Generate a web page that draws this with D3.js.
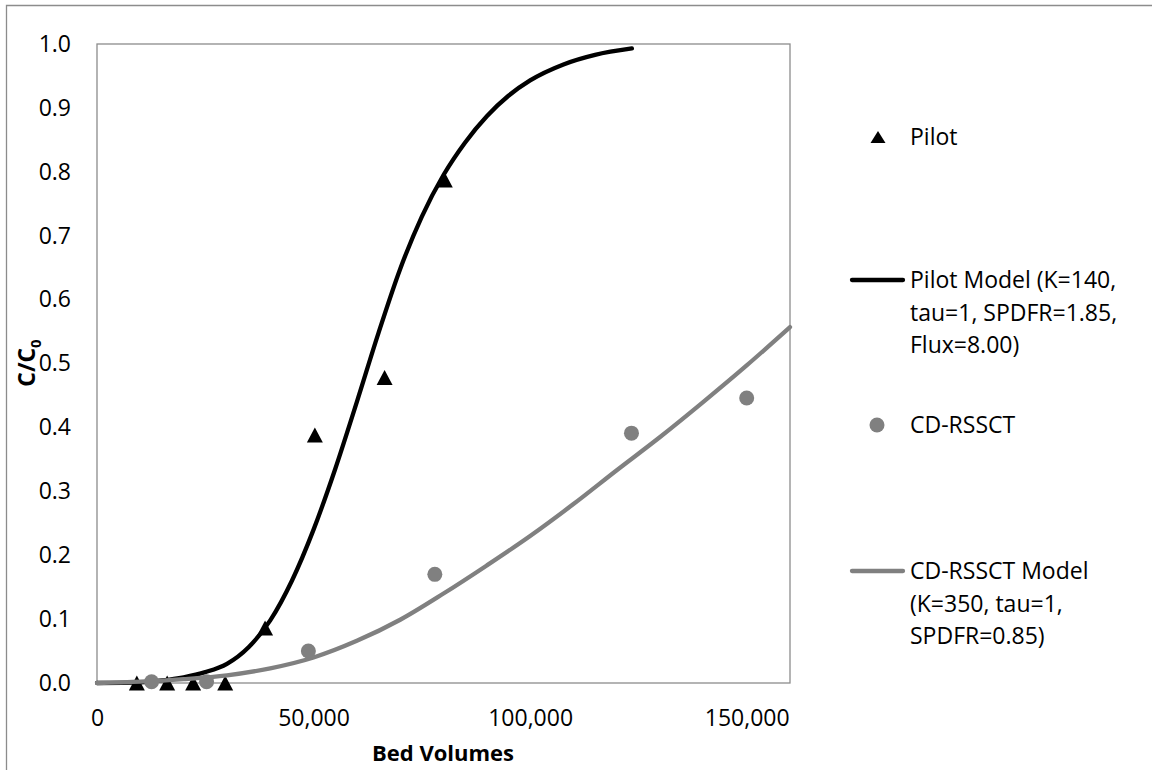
<!DOCTYPE html>
<meta charset="utf-8">
<title>Breakthrough curves</title>
<style>
  body { margin: 0; background: #fff; }
  text { font-family: "Open Sans", sans-serif; fill: #000; }
</style>
<body>
<div id="chart"></div>
<script src="https://cdn.jsdelivr.net/npm/d3@7"></script>
<script>

// pilot column data (bed volumes, C/C0)
var pilotBV   = [9200, 16200, 22200, 29600, 38800, 50300, 66400, 80300];
var pilotCC0  = [0.0, 0.0, 0.0, 0.0, 0.086, 0.388, 0.478, 0.787];

// pilot model curve
var pilotModelBV  = [0, 10000, 15000, 20000, 25000, 30000, 35000, 40000, 45000, 50000, 55000, 60000,
                     65000, 70000, 75000, 80000, 85000, 90000, 95000, 100000, 107700, 115000, 123500];
var pilotModelCC0 = [0.0, 0.001, 0.004, 0.009, 0.017, 0.030, 0.056, 0.098, 0.160, 0.240, 0.335, 0.44,
                     0.548, 0.648, 0.730, 0.795, 0.846, 0.887, 0.919, 0.943, 0.968, 0.983, 0.993];

// CD-RSSCT data
var rssctBV  = [12600, 25300, 48800, 78000, 123400, 150000];
var rssctCC0 = [0.002, 0.002, 0.050, 0.170, 0.391, 0.446];

// CD-RSSCT model curve
var rssctModelBV  = [0, 10000, 20000, 30000, 40000, 50000, 60000, 70000, 80000, 90000,
                     100000, 110000, 120000, 130000, 140000, 150000, 160000];
var rssctModelCC0 = [0.0, 0.002, 0.006, 0.012, 0.023, 0.040, 0.066, 0.099, 0.140, 0.184,
                     0.230, 0.280, 0.333, 0.385, 0.440, 0.497, 0.557];

var xTicks = [0, 50000, 100000, 150000];
var yTicks = [0, 0.1, 0.2, 0.3, 0.4, 0.5, 0.6, 0.7, 0.8, 0.9, 1.0];

var legendPilot = ["Pilot"];
var legendPilotModel = ["Pilot Model (K=140,", "tau=1, SPDFR=1.85,", "Flux=8.00)"];
var legendRssct = ["CD-RSSCT"];
var legendRssctModel = ["CD-RSSCT Model", "(K=350, tau=1,", "SPDFR=0.85)"];

var W = 1152, H = 770;
var margin = {top: 44, left: 97},
    width = 693,
    height = 639;

var svg = d3.select("#chart").append("svg")
    .attr("width", W).attr("height", H);

// outer chart border
svg.append("path")
    .attr("d", "M6.5,770 L6.5,5.5 L1152,5.5")
    .attr("fill", "none").attr("stroke", "#8c8c8c").attr("stroke-width", 1.3);

var g = svg.append("g")
    .attr("transform", "translate(" + margin.left + "," + margin.top + ")");

var x = d3.scaleLinear().domain([0, 160000]).range([0, width]);
var y = d3.scaleLinear().domain([0, 1]).range([height, 0]);

// plot area border
g.append("rect")
    .attr("width", width).attr("height", height)
    .attr("fill", "none").attr("stroke", "#8c8c8c").attr("stroke-width", 1.3);

// axes
var xAxis = g.append("g")
    .attr("transform", "translate(0," + height + ")")
    .call(d3.axisBottom(x).tickValues(xTicks).tickFormat(d3.format(",")).tickSize(0).tickPadding(27));
var yAxis = g.append("g")
    .call(d3.axisLeft(y).tickValues(yTicks).tickFormat(d3.format(".1f")).tickSize(0).tickPadding(26));
[xAxis, yAxis].forEach(function(a) {
  a.select(".domain").remove();
  a.selectAll("text").style("font-family", "'Open Sans', sans-serif").style("font-size", "23px").attr("fill", "#000");
});

// axis titles
svg.append("text")
    .attr("x", 443).attr("y", 761)
    .attr("text-anchor", "middle")
    .style("font-size", "22px").style("font-weight", "bold")
    .text("Bed Volumes");

var yt = svg.append("text")
    .attr("transform", "translate(35,363) rotate(-90)")
    .attr("text-anchor", "middle")
    .style("font-size", "23px").style("font-weight", "bold");
yt.append("tspan").text("C/C");
yt.append("tspan").attr("dy", 6).style("font-size", "15px").text("0");

var line = d3.line()
    .x(function(d) { return x(d[0]); })
    .y(function(d) { return y(d[1]); })
    .curve(d3.curveMonotoneX);

var tri = "M0,-7.5L8,7.5L-8,7.5Z";

// pilot triangles
g.selectAll(".pilot")
    .data(d3.zip(pilotBV, pilotCC0))
    .enter().append("path")
      .attr("class", "pilot")
      .attr("d", tri)
      .attr("transform", function(d) { return "translate(" + x(d[0]) + "," + y(d[1]) + ")"; })
      .attr("fill", "#000");

// pilot model
g.append("path")
    .datum(d3.zip(pilotModelBV, pilotModelCC0))
    .attr("d", line)
    .attr("fill", "none").attr("stroke", "#000").attr("stroke-width", 4.3)
    .attr("stroke-linecap", "round");

// CD-RSSCT circles
g.selectAll(".rssct")
    .data(d3.zip(rssctBV, rssctCC0))
    .enter().append("circle")
      .attr("class", "rssct")
      .attr("cx", function(d) { return x(d[0]); })
      .attr("cy", function(d) { return y(d[1]); })
      .attr("r", 7.5)
      .attr("fill", "#808080");

// CD-RSSCT model
g.append("path")
    .datum(d3.zip(rssctModelBV, rssctModelCC0))
    .attr("d", line)
    .attr("fill", "none").attr("stroke", "#808080").attr("stroke-width", 4.3)
    .attr("stroke-linecap", "round");

// legend
var leg = svg.append("g");
function legendText(lines, y0) {
  leg.append("text")
      .attr("x", 910).attr("y", y0)
      .style("font-size", "23px")
    .selectAll("tspan")
    .data(lines)
    .enter().append("tspan")
      .attr("x", 910)
      .attr("dy", function(d, i) { return i ? 32.5 : 0; })
      .text(function(d) { return d; });
}

leg.append("path").attr("d", "M0,-6L7.5,6L-7.5,6Z")
    .attr("transform", "translate(878,137)").attr("fill", "#000");
legendText(legendPilot, 145);

leg.append("line").attr("x1", 852).attr("x2", 903).attr("y1", 280).attr("y2", 280)
    .attr("stroke", "#000").attr("stroke-width", 4.3).attr("stroke-linecap", "round");
legendText(legendPilotModel, 288);

leg.append("circle").attr("cx", 877).attr("cy", 425).attr("r", 7.5).attr("fill", "#808080");
legendText(legendRssct, 433);

leg.append("line").attr("x1", 852).attr("x2", 903).attr("y1", 571).attr("y2", 571)
    .attr("stroke", "#808080").attr("stroke-width", 4.3).attr("stroke-linecap", "round");
legendText(legendRssctModel, 579);

</script>
</body>
